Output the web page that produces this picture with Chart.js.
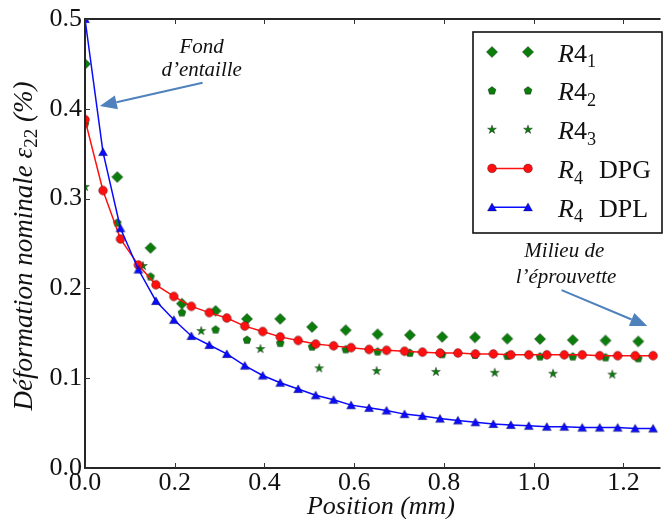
<!DOCTYPE html>
<html><head><meta charset="utf-8">
<script src="https://cdn.jsdelivr.net/npm/chart.js@4/dist/chart.umd.min.js"></script>
<style>html,body{margin:0;padding:0;background:#fff;}canvas{display:block;}</style>
</head><body>
<canvas id="c" width="665" height="519"></canvas>
<script>
// ---------- data ----------
const positionModel = [0.000, 0.040, 0.079, 0.119, 0.158, 0.198, 0.237, 0.277, 0.316, 0.356, 0.396,
  0.435, 0.475, 0.514, 0.554, 0.593, 0.633, 0.672, 0.712, 0.752, 0.791, 0.831, 0.870, 0.910,
  0.949, 0.989, 1.029, 1.068, 1.108, 1.147, 1.187, 1.226, 1.266];
const defDPG = [0.388, 0.309, 0.255, 0.226, 0.204, 0.191, 0.180, 0.173, 0.167, 0.158, 0.152,
  0.146, 0.142, 0.138, 0.136, 0.134, 0.132, 0.131, 0.130, 0.129, 0.128, 0.128, 0.127, 0.127,
  0.126, 0.126, 0.126, 0.126, 0.126, 0.125, 0.125, 0.125, 0.125];
const defDPL = [0.500, 0.352, 0.267, 0.221, 0.186, 0.165, 0.147, 0.137, 0.127, 0.114, 0.103,
  0.095, 0.088, 0.081, 0.076, 0.070, 0.067, 0.064, 0.060, 0.058, 0.055, 0.053, 0.051, 0.049,
  0.048, 0.047, 0.046, 0.046, 0.045, 0.045, 0.045, 0.044, 0.044];
const positionExp = [0.000, 0.072, 0.146, 0.216, 0.291, 0.361, 0.435, 0.506, 0.581, 0.652,
  0.724, 0.796, 0.869, 0.941, 1.014, 1.087, 1.160, 1.233];
const defR41 = [0.450, 0.324, 0.245, 0.183, 0.175, 0.166, 0.166, 0.157, 0.1535, 0.149,
  0.148, 0.146, 0.1455, 0.144, 0.1436, 0.1425, 0.142, 0.141];
const defR42 = [0.383, 0.273, 0.213, 0.173, 0.154, 0.1425, 0.139, 0.135, 0.132, 0.1295,
  0.128, 0.1266, 0.1258, 0.1247, 0.124, 0.124, 0.123, 0.122];
const positionR43 = [0.000, 0.129, 0.259, 0.391, 0.522, 0.650, 0.782, 0.913, 1.043, 1.175];
const defR43 = [0.313, 0.225, 0.1525, 0.1325, 0.111, 0.108, 0.107, 0.106, 0.105, 0.104];

const xTickValues = [0.0, 0.2, 0.4, 0.6, 0.8, 1.0, 1.2];
const xTickLabels = ['0.0', '0.2', '0.4', '0.6', '0.8', '1.0', '1.2'];
const yTickValues = [0.0, 0.1, 0.2, 0.3, 0.4, 0.5];
const yTickLabels = ['0.0', '0.1', '0.2', '0.3', '0.4', '0.5'];

const xTitle = 'Position (mm)';
const yTitle = ['Déformation nominale ', 'ε', '22', ' (%)'];
const noteStart = ['Fond', 'd’entaille'];
const noteEnd = ['Milieu de', 'l’éprouvette'];

// ---------- styling ----------
const SERIF = '"Liberation Serif", "Times New Roman", serif';
const GREEN = '#0b7d0b';
const RED = '#ff1010';
const BLUE = '#0a0aff';
const ARROW = '#4f81bd';

function markerPath(ctx, kind, x, y) {
  ctx.beginPath();
  if (kind === 'diamond') {
    const r = 5.6;
    ctx.moveTo(x, y - r); ctx.lineTo(x + r, y); ctx.lineTo(x, y + r); ctx.lineTo(x - r, y);
  } else if (kind === 'circle') {
    ctx.arc(x, y, 4.4, 0, Math.PI * 2);
  } else if (kind === 'triangle') {
    ctx.moveTo(x, y - 4.2); ctx.lineTo(x + 4.5, y + 3.7); ctx.lineTo(x - 4.5, y + 3.7);
  } else if (kind === 'pentagon') {
    const r = 4.2;
    for (let i = 0; i < 5; i++) {
      const a = -Math.PI / 2 + i * 2 * Math.PI / 5;
      const px = x + r * Math.cos(a), py = y + r * Math.sin(a);
      i ? ctx.lineTo(px, py) : ctx.moveTo(px, py);
    }
  } else if (kind === 'star') {
    const r = 4.7, ri = r * 0.382;
    for (let i = 0; i < 10; i++) {
      const a = -Math.PI / 2 + i * Math.PI / 5;
      const rr = i % 2 ? ri : r;
      const px = x + rr * Math.cos(a), py = y + rr * Math.sin(a);
      i ? ctx.lineTo(px, py) : ctx.moveTo(px, py);
    }
  }
  ctx.closePath();
}
function drawMarker(ctx, kind, x, y, fill) {
  markerPath(ctx, kind, x, y);
  ctx.fillStyle = fill; ctx.fill();
  ctx.lineWidth = 0.6; ctx.strokeStyle = 'rgba(0,0,0,0.55)'; ctx.stroke();
}
function markerCanvas(kind, fill) {
  const c = document.createElement('canvas');
  c.width = 16; c.height = 16;
  drawMarker(c.getContext('2d'), kind, 8, 8, fill);
  return c;
}

const pts = (xs, ys) => xs.map((x, i) => ({ x: x, y: ys[i] }));

const series = [
  { key: 'R41', xs: positionExp, ys: defR41, marker: 'diamond', color: GREEN, line: false, order: 5,
    label: [{ t: 'R', it: true }, { t: '4' }, { t: '1', sub: true }] },
  { key: 'R42', xs: positionExp, ys: defR42, marker: 'pentagon', color: GREEN, line: false, order: 4,
    label: [{ t: 'R', it: true }, { t: '4' }, { t: '2', sub: true }] },
  { key: 'R43', xs: positionR43, ys: defR43, marker: 'star', color: GREEN, line: false, order: 3,
    label: [{ t: 'R', it: true }, { t: '4' }, { t: '3', sub: true }] },
  { key: 'DPG', xs: positionModel, ys: defDPG, marker: 'circle', color: RED, line: true, order: 2,
    label: [{ t: 'R', it: true }, { t: '4', sub: true }, { t: 'DPG', gap: 16 }] },
  { key: 'DPL', xs: positionModel, ys: defDPL, marker: 'triangle', color: BLUE, line: true, order: 1,
    label: [{ t: 'R', it: true }, { t: '4', sub: true }, { t: 'DPL', gap: 16 }] },
];

const datasets = series.map(s => ({
  label: s.key,
  data: pts(s.xs, s.ys),
  showLine: s.line,
  borderColor: s.color,
  borderWidth: 1.5,
  tension: 0,
  pointStyle: markerCanvas(s.marker, s.color),
  pointRadius: 5,
  pointHoverRadius: 5,
  clip: 0,
  order: s.order,
}));

function arrow(ctx, x1, y1, x2, y2) {
  const ang = Math.atan2(y2 - y1, x2 - x1);
  const L = 17, W = 7;
  const bx = x2 - L * Math.cos(ang), by = y2 - L * Math.sin(ang);
  ctx.strokeStyle = ARROW; ctx.fillStyle = ARROW; ctx.lineWidth = 2;
  ctx.beginPath(); ctx.moveTo(x1, y1); ctx.lineTo(bx, by); ctx.stroke();
  ctx.beginPath();
  ctx.moveTo(x2, y2);
  ctx.lineTo(bx + W * Math.sin(ang), by - W * Math.cos(ang));
  ctx.lineTo(bx - W * Math.sin(ang), by + W * Math.cos(ang));
  ctx.closePath(); ctx.fill();
}

function drawRich(ctx, parts, x, y, size) {
  let cx = x;
  parts.forEach(p => {
    if (p.gap) cx += p.gap;
    const fs = p.sub ? size * 0.7 : size;
    ctx.font = (p.it ? 'italic ' : '') + fs + 'px ' + SERIF;
    ctx.fillText(p.t, cx, y + (p.sub ? size * 0.22 : 0));
    cx += ctx.measureText(p.t).width;
  });
}

const overlay = {
  id: 'overlay',
  afterDraw(chart) {
    const { ctx, chartArea: a, scales: { x, y } } = chart;
    ctx.save();
    // spines
    ctx.strokeStyle = '#262626'; ctx.lineWidth = 2;
    ctx.beginPath();
    ctx.moveTo(a.right + 2, a.top); ctx.lineTo(a.left, a.top); ctx.lineTo(a.left, a.bottom); ctx.lineTo(a.right + 2, a.bottom);
    ctx.stroke();
    // inward ticks
    ctx.lineWidth = 1; ctx.strokeStyle = '#333';
    ctx.beginPath();
    xTickValues.forEach(v => {
      const px = Math.round(x.getPixelForValue(v)) + 0.5;
      ctx.moveTo(px, a.bottom); ctx.lineTo(px, a.bottom - 5);
      ctx.moveTo(px, a.top); ctx.lineTo(px, a.top + 5);
    });
    yTickValues.forEach(v => {
      const py = Math.round(y.getPixelForValue(v)) + 0.5;
      ctx.moveTo(a.left, py); ctx.lineTo(a.left + 5, py);
    });
    ctx.stroke();

    // axis titles
    ctx.fillStyle = '#111'; ctx.textBaseline = 'alphabetic';
    ctx.font = 'italic 26px ' + SERIF; ctx.textAlign = 'center';
    ctx.fillText(xTitle, (a.left + 677) / 2, 514);
    // y title (rotated, with subscript)
    ctx.save();
    ctx.textAlign = 'left';
    const f1 = 'italic 27px ' + SERIF, f3 = '19px ' + SERIF;
    ctx.font = f1; const w0 = ctx.measureText(yTitle[0]).width;
    const w1 = ctx.measureText(yTitle[1]).width;
    ctx.font = f3; const w2 = ctx.measureText(yTitle[2]).width;
    ctx.font = f1; const w3 = ctx.measureText(yTitle[3]).width;
    const tot = w0 + w1 + w2 + w3;
    ctx.translate(32, 246);
    ctx.rotate(-Math.PI / 2);
    let cx = -tot / 2;
    ctx.font = f1; ctx.fillText(yTitle[0], cx, 0); cx += w0;
    ctx.fillText(yTitle[1], cx, 0); cx += w1;
    ctx.font = f3; ctx.fillText(yTitle[2], cx, 5); cx += w2;
    ctx.font = f1; ctx.fillText(yTitle[3], cx, 0);
    ctx.restore();

    // annotations
    ctx.font = 'italic 21px ' + SERIF; ctx.textAlign = 'center'; ctx.fillStyle = '#111';
    ctx.fillText(noteStart[0], x.getPixelForValue(0.260), y.getPixelForValue(0.462));
    ctx.fillText(noteStart[1], x.getPixelForValue(0.260), y.getPixelForValue(0.437));
    arrow(ctx, x.getPixelForValue(0.262), y.getPixelForValue(0.429), x.getPixelForValue(0.033), y.getPixelForValue(0.403));
    ctx.fillStyle = '#111';
    ctx.fillText(noteEnd[0], x.getPixelForValue(1.068), y.getPixelForValue(0.235));
    ctx.fillText(noteEnd[1], x.getPixelForValue(1.072), y.getPixelForValue(0.206));
    arrow(ctx, x.getPixelForValue(1.062), y.getPixelForValue(0.198), x.getPixelForValue(1.253), y.getPixelForValue(0.158));

    // legend
    const L = { left: 473, top: 32, right: 662, bottom: 233 };
    ctx.fillStyle = '#fff';
    ctx.fillRect(L.left, L.top, L.right - L.left, L.bottom - L.top);
    ctx.strokeStyle = '#111'; ctx.lineWidth = 1.6;
    ctx.strokeRect(L.left, L.top, L.right - L.left, L.bottom - L.top);
    ctx.textAlign = 'left'; ctx.textBaseline = 'alphabetic';
    series.forEach((s, i) => {
      const ry = 52 + i * 38.8;
      if (s.line) {
        ctx.strokeStyle = s.color; ctx.lineWidth = 1.5;
        ctx.beginPath(); ctx.moveTo(492, ry); ctx.lineTo(528, ry); ctx.stroke();
      }
      drawMarker(ctx, s.marker, 492, ry, s.color);
      drawMarker(ctx, s.marker, 528, ry, s.color);
      ctx.fillStyle = '#111';
      drawRich(ctx, s.label, 558, ry + 9.5, 26);
    });
    ctx.restore();
  }
};

new Chart(document.getElementById('c'), {
  type: 'scatter',
  data: { datasets: datasets },
  plugins: [overlay],
  options: {
    responsive: false,
    animation: false,
    devicePixelRatio: 1,
    events: [],
    layout: { padding: { top: 19, left: 0, right: 0, bottom: 0 } },
    plugins: { legend: { display: false }, tooltip: { enabled: false } },
    scales: {
      x: {
        type: 'linear', min: 0, max: 1.278,
        afterFit(s) { s.height = 51; },
        afterBuildTicks(s) { s.ticks = xTickValues.map(v => ({ value: v })); },
        grid: { display: false, drawTicks: false },
        border: { display: false },
        ticks: {
          autoSkip: false, maxRotation: 0, padding: 2, color: '#111',
          font: { family: SERIF, size: 26, lineHeight: 1 },
          callback: (v, i) => xTickLabels[i]
        }
      },
      y: {
        type: 'linear', min: 0, max: 0.5,
        afterFit(s) { s.width = 85; },
        afterBuildTicks(s) { s.ticks = yTickValues.map(v => ({ value: v })); },
        grid: { display: false, drawTicks: false },
        border: { display: false },
        ticks: {
          autoSkip: false, padding: 3, color: '#111',
          font: { family: SERIF, size: 26, lineHeight: 1 },
          callback: (v, i) => yTickLabels[i]
        }
      }
    }
  }
});
</script>
</body></html>
